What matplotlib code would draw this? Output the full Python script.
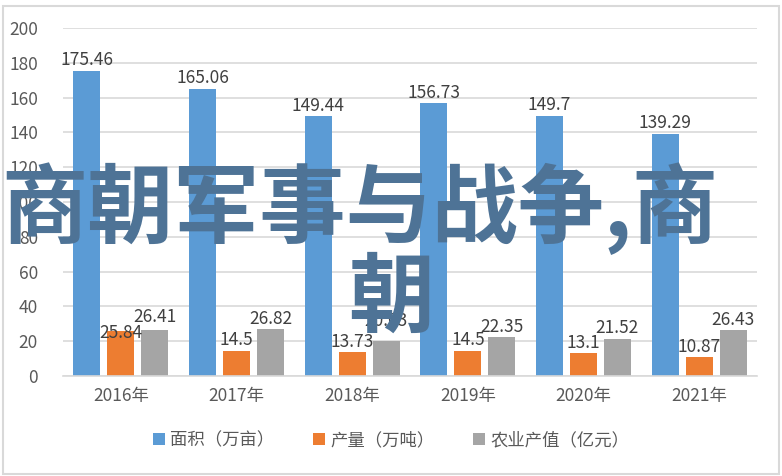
import matplotlib
matplotlib.use("Agg")
import matplotlib.pyplot as plt
from matplotlib.patches import Rectangle, Patch
import numpy as np

categories = ["2016年", "2017年", "2018年", "2019年", "2020年", "2021年"]
series_names = ["面积（万亩）", "产量（万吨）", "农业产值（亿元）"]
area = [175.46, 165.06, 149.44, 156.73, 149.7, 139.29]
output = [25.84, 14.5, 13.73, 14.5, 13.1, 10.87]
value = [26.41, 26.82, 20.03, 22.35, 21.52, 26.43]
colors = ["#5b9bd5", "#ed7d31", "#a5a5a5"]
yticks = [0, 20, 40, 60, 80, 100, 120, 140, 160, 180, 200]
overlay_line1 = "商朝军事与战争,商"
overlay_line2 = "朝"

# label nudges (series index, category index) -> extra vertical offset in points
label_nudge = {(1, 0): -9, (2, 2): 7, (2, 0): 2}

num_font = ["Liberation Sans Narrow", "Noto Sans CJK SC", "DejaVu Sans"]
cjk_font = ["Noto Sans CJK SC", "DejaVu Sans"]

fig = plt.figure(figsize=(7.82, 4.76), dpi=100)
fig.patch.set_facecolor("white")
fig.patches.append(Rectangle((2.5 / 782, 2.5 / 476), 776 / 782, 468 / 476,
                             transform=fig.transFigure, fill=False,
                             edgecolor="#d9d9d9", linewidth=1.5))

ax = fig.add_axes([63 / 782, 100 / 476, 694 / 782, 348 / 476])
x = np.arange(len(categories))
w = 0.233
step = 0.293
data = [area, output, value]
for i, (vals, c) in enumerate(zip(data, colors)):
    pos = x + (i - 1) * step
    ax.bar(pos, vals, width=w, color=c, zorder=2)
    for j, (p, v) in enumerate(zip(pos, vals)):
        dy = 1 + label_nudge.get((i, j), 0)
        ax.annotate(f"{v:g}", (p, v), xytext=(0, dy), textcoords="offset points",
                    ha="center", va="bottom", fontsize=12.5, color="#404040",
                    family=num_font, zorder=3)

ax.set_xlim(-0.5, len(categories) - 0.5)
ax.set_ylim(0, 200)
ax.set_yticks(yticks)
ax.set_yticklabels([str(t) for t in yticks], family=num_font, fontsize=12.5, color="#595959")
ax.set_xticks(x)
ax.set_xticklabels(categories, family=num_font, fontsize=12.5, color="#595959")
ax.tick_params(axis="both", length=0)
ax.tick_params(axis="y", pad=18)
ax.tick_params(axis="x", pad=8)
ax.grid(axis="y", color="#d9d9d9", linewidth=1.2, zorder=0)
ax.set_axisbelow(True)
for s in ["top", "right", "left"]:
    ax.spines[s].set_visible(False)
ax.spines["bottom"].set_color("#d9d9d9")
ax.spines["bottom"].set_linewidth(1.2)

handles = [Patch(facecolor=c, label=n) for c, n in zip(colors, series_names)]
leg = fig.legend(handles=handles, loc="center", bbox_to_anchor=(0.5, 36 / 476),
                 ncol=3, frameon=False, prop={"family": cjk_font, "size": 12.5},
                 handlelength=0.7, handleheight=0.7, handletextpad=0.3,
                 columnspacing=2.2)
for t in leg.get_texts():
    t.set_color("#595959")

fig.text(360 / 782, 1 - 209 / 476, overlay_line1, ha="center", va="center",
         fontsize=62, color="#4e7396", family=cjk_font, fontweight="bold", zorder=10)
fig.text(391 / 782, 1 - 299 / 476, overlay_line2, ha="center", va="center",
         fontsize=62, color="#4e7396", family=cjk_font, fontweight="bold", zorder=10)

fig.savefig("out.png", dpi=100)
